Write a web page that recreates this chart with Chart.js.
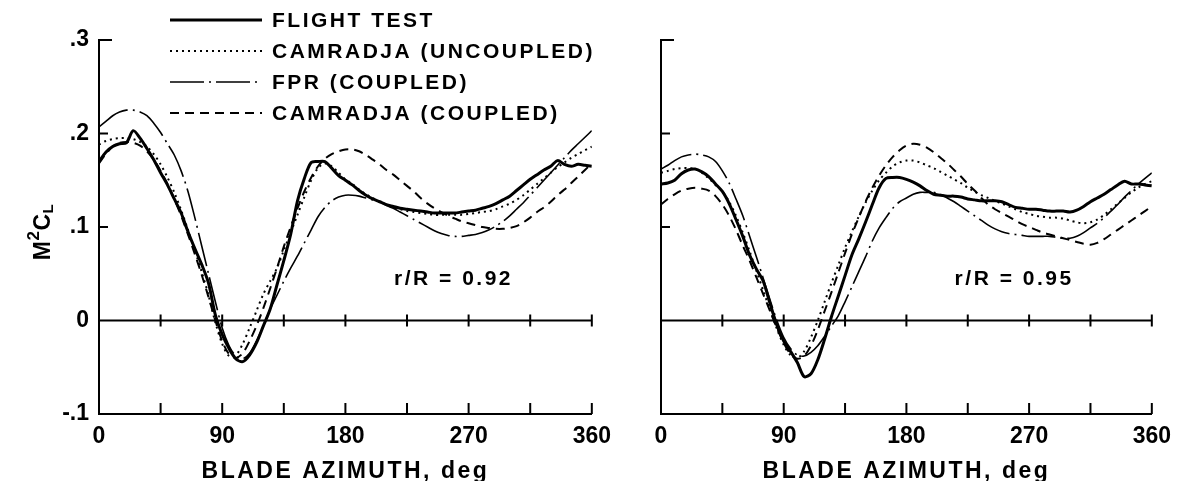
<!DOCTYPE html>
<html><head><meta charset="utf-8">
<script src="https://cdn.jsdelivr.net/npm/chart.js@4.4.0/dist/chart.umd.min.js"></script>
<style>
html,body{margin:0;padding:0;background:#fff;overflow:hidden;width:1180px;height:481px;}
#wrap{position:relative;width:1180px;height:481px;overflow:hidden;background:#fff}
canvas{position:absolute;top:0}
#c1{left:0px}
#c2{left:600px}
</style></head><body>
<div id="wrap">
<canvas id="c1" width="620" height="500"></canvas>
<canvas id="c2" width="580" height="500"></canvas>
</div>
<script>
// ---------------- data ----------------
const azimuth = [0,5,10,15,20,25,30,35,40,45,50,55,60,65,70,75,80,85,90,95,100,105,110,115,120,125,130,135,140,145,150,155,160,165,170,175,180,185,190,195,200,205,210,215,220,225,230,235,240,245,250,255,260,265,270,275,280,285,290,295,300,305,310,315,320,325,330,335,340,345,350,355,360];
const xTickLabels = ['0','90','180','270','360'];
const yTickLabels = ['-.1','0','.1','.2','.3'];
const seriesNames = ['FLIGHT TEST','CAMRADJA (UNCOUPLED)','FPR (COUPLED)','CAMRADJA (COUPLED)'];
const panelNotes = ['r/R = 0.92','r/R = 0.95'];
const xAxisTitle = 'BLADE AZIMUTH, deg';

// r/R = 0.92
const flightTest092 = [.170,.180,.186,.189,.190,.203,.195,.184,.172,.158, .145,.130,.115,.095,.077,.060,.040,.006,-.015,-.030, -.041,-.044,-.037,-.024,-.006,.012,.038,.064,.092,.128, .152,.169,.170,.170,.163,.155,.150,.145,.139,.134, .130,.127,.124,.122,.120,.119,.118,.117,.116,.115, .115,.115,.115,.116,.117,.118,.120,.122,.125,.129, .133,.139,.145,.151,.156,.161,.165,.171,.167,.165, .167,.166,.165];
const camradjaUncoupled092 = [.188,.192,.194,.195,.195,.194,.191,.186,.178,.167, .153,.137,.118,.097,.075,.052,.027,-.002,-.025,-.038, -.037,-.025,-.008,.010,.028,.042,.056,.075,.094,.113, .132,.150,.163,.168,.165,.158,.151,.146,.140,.135, .131,.127,.124,.121,.119,.117,.116,.115,.114,.113, .113,.113,.113,.113,.114,.115,.116,.117,.119,.122, .125,.129,.134,.140,.146,.152,.158,.164,.169,.174, .178,.182,.186];
const fprCoupled092 = [.207,.213,.219,.223,.225,.225,.223,.219,.211,.201, .189,.177,.160,.138,.110,.080,.050,.020,-.008,-.027, -.038,-.041,-.035,-.022,-.006,.012,.027,.042,.056,.069, .083,.097,.111,.121,.128,.132,.134,.134,.133,.131, .129,.127,.123,.120,.116,.112,.108,.104,.100,.096, .093,.091,.090,.090,.091,.092,.094,.097,.101,.106, .112,.119,.126,.134,.142,.150,.158,.166,.174,.182, .189,.196,.203];
const camradjaCoupled092 = [.168,.178,.186,.190,.191,.190,.187,.181,.172,.160, .146,.130,.112,.092,.071,.049,.025,.000,-.022,-.036, -.040,-.035,-.022,-.006,.013,.034,.056,.079,.100,.120, .138,.153,.165,.173,.178,.181,.183,.183,.181,.177, .172,.167,.161,.156,.150,.144,.138,.131,.125,.120, .116,.112,.109,.106,.104,.102,.100,.099,.098,.098, .099,.101,.105,.110,.116,.121,.127,.134,.140,.147, .154,.161,.168];

// r/R = 0.95
const flightTest095 = [.146,.147,.150,.157,.161,.162,.159,.154,.146,.138, .125,.108,.090,.070,.055,.042,.018,-.005,-.022,-.033, -.045,-.060,-.057,-.042,-.020,.004,.026,.048,.070,.087, .105,.124,.142,.152,.153,.153,.151,.148,.144,.139, .135,.134,.133,.133,.132,.130,.129,.128,.128,.128, .127,.124,.121,.120,.119,.119,.118,.117,.117,.117, .116,.118,.122,.127,.131,.135,.140,.145,.149,.146, .146,.145,.144];
const camradjaUncoupled095 = [.158,.160,.162,.163,.163,.162,.158,.152,.145,.138, .127,.112,.094,.074,.053,.032,.011,-.009,-.026,-.037, -.040,-.033,-.018,.000,.020,.040,.059,.078,.095,.111, .126,.139,.150,.158,.165,.169,.171,.171,.169,.166, .163,.159,.155,.151,.147,.142,.138,.134,.131,.128, .125,.122,.119,.116,.114,.112,.111,.110,.110,.109, .107,.105,.104,.105,.108,.113,.119,.125,.131,.137, .142,.146,.149];
const fprCoupled095 = [.162,.166,.171,.175,.177,.178,.177,.175,.170,.160, .147,.130,.112,.090,.068,.045,.022,.000,-.018,-.030, -.037,-.038,-.034,-.027,-.017,-.006,.005,.020,.036,.052, .068,.085,.099,.110,.120,.127,.131,.135,.137,.137, .137,.135,.131,.127,.122,.117,.112,.107,.102,.098, .095,.093,.092,.091,.090,.090,.090,.090,.089,.088, .088,.090,.094,.099,.104,.110,.117,.124,.132,.139, .146,.152,.158];
const camradjaCoupled095 = [.124,.130,.135,.139,.141,.142,.141,.139,.133,.124, .112,.097,.080,.064,.046,.028,.010,-.008,-.024,-.036, -.041,-.038,-.027,-.010,.010,.030,.051,.072,.092,.110, .127,.142,.155,.166,.175,.182,.187,.189,.188,.185, .180,.174,.168,.161,.154,.146,.139,.131,.124,.119, .115,.111,.107,.103,.100,.097,.094,.092,.090,.088, .086,.084,.082,.081,.083,.087,.092,.097,.102,.107, .112,.117,.122];

// ---------------- styles ----------------
const FONT = '"Liberation Sans", Arial, Helvetica, sans-serif';
Chart.defaults.font.family = FONT;
Chart.defaults.color = '#000';
const lineStyles = [
  {borderWidth: 3, borderDash: []},
  {borderWidth: 2, borderDash: [2, 4]},
  {borderWidth: 1.6, borderDash: [34, 5, 2, 5]},
  {borderWidth: 2, borderDash: [9, 6]}
];

function makeDatasets(series) {
  return series.map((vals, i) => ({
    label: seriesNames[i],
    data: azimuth.map((a, j) => ({x: a, y: vals[j]})),
    borderColor: '#000',
    backgroundColor: '#000',
    borderWidth: lineStyles[i].borderWidth,
    borderDash: lineStyles[i].borderDash,
    pointRadius: 0,
    tension: 0.3,
    fill: false
  }));
}

const spacing = {
  id: 'spacing',
  beforeDraw(c) { c.ctx.letterSpacing = '2.5px'; },
  beforeDatasetsDraw(c) { c.ctx.letterSpacing = '0px'; }
};

const decor = {
  id: 'decor',
  afterDraw(chart, args, opts) {
    const {ctx} = chart;
    const x = chart.scales.x, y = chart.scales.y;
    ctx.save();
    ctx.letterSpacing = '0px';
    ctx.strokeStyle = '#000';
    ctx.fillStyle = '#000';
    ctx.lineWidth = 2;
    ctx.setLineDash([]);
    const y0 = y.getPixelForValue(0);
    const yb = y.getPixelForValue(-0.1);
    const xl = x.getPixelForValue(0);
    ctx.beginPath();
    ctx.moveTo(xl, y0); ctx.lineTo(x.getPixelForValue(360), y0);
    for (const t of x.ticks) {
      if (t.value === 0) continue;
      const px = x.getPixelForValue(t.value);
      ctx.moveTo(px, y0 - 6); ctx.lineTo(px, y0 + 6);
      ctx.moveTo(px, yb); ctx.lineTo(px, yb - 11);
    }
    for (const t of y.ticks) {
      if (t.value <= 0.001) continue;
      const py = y.getPixelForValue(t.value);
      const len = t.value > 0.25 ? 13 : 9;
      ctx.moveTo(xl, py); ctx.lineTo(xl + len, py);
    }
    ctx.stroke();

    // panel note
    ctx.letterSpacing = '2.5px';
    ctx.font = 'bold 21px ' + FONT;
    ctx.textAlign = 'center';
    ctx.textBaseline = 'middle';
    ctx.fillText(opts.note, x.getPixelForValue(259), y.getPixelForValue(0.044));

    if (opts.legend) {
      const rows = [20, 51, 82, 113];
      chart.data.datasets.forEach((ds, i) => {
        ctx.lineWidth = ds.borderWidth;
        ctx.setLineDash(ds.borderDash);
        ctx.beginPath();
        ctx.moveTo(170, rows[i]); ctx.lineTo(262, rows[i]);
        ctx.stroke();
        ctx.setLineDash([]);
        ctx.textAlign = 'left';
        ctx.fillText(ds.label, 272, rows[i] + 1);
      });
    }

    if (opts.yTitle) {
      ctx.save();
      ctx.translate(50, 232);
      ctx.rotate(-Math.PI / 2);
      ctx.letterSpacing = '0.5px';
      ctx.textAlign = 'left';
      ctx.textBaseline = 'alphabetic';
      const parts = [{t: 'M', s: 23, dy: 0}, {t: '2', s: 17, dy: -11}, {t: 'C', s: 23, dy: 0}, {t: 'L', s: 15, dy: 3}];
      let total = 0;
      parts.forEach(p => { ctx.font = 'bold ' + p.s + 'px ' + FONT; p.w = ctx.measureText(p.t).width; total += p.w; });
      let cx = -total / 2;
      parts.forEach(p => { ctx.font = 'bold ' + p.s + 'px ' + FONT; ctx.fillText(p.t, cx, p.dy); cx += p.w; });
      ctx.restore();
    }
    ctx.restore();
  }
};

function makeChart(canvasId, series, yWidth, padRight, showYLabels, pluginOpts) {
  return new Chart(document.getElementById(canvasId), {
    type: 'line',
    data: {datasets: makeDatasets(series)},
    options: {
      responsive: false,
      animation: false,
      events: [],
      layout: {padding: {left: 0, top: 40, right: padRight, bottom: 0}},
      plugins: {legend: {display: false}, tooltip: {enabled: false}, decor: pluginOpts},
      scales: {
        x: {
          type: 'linear', min: 0, max: 360,
          afterFit: s => { s.height = 86; },
          grid: {display: false, drawTicks: false},
          border: {display: true, color: '#000', width: 2},
          ticks: {
            stepSize: 45, autoSkip: false, maxRotation: 0, padding: 9, z: 1,
            font: {size: 23, weight: 'bold'}, color: '#000',
            callback: v => (v % 90 === 0 ? xTickLabels[v / 90] : '')
          },
          title: {display: true, text: xAxisTitle, color: '#000', font: {size: 23, weight: 'bold'}, padding: {top: 0, bottom: 15}}
        },
        y: {
          min: -0.1, max: 0.3,
          afterFit: s => { s.width = yWidth; },
          grid: {display: false, drawTicks: false},
          border: {display: true, color: '#000', width: 2},
          ticks: {
            display: showYLabels, stepSize: 0.1, padding: 10, z: 1,
            font: {size: 23, weight: 'bold'}, color: '#000',
            callback: v => yTickLabels[Math.round((v + 0.1) / 0.1)]
          }
        }
      }
    },
    plugins: [spacing, decor]
  });
}

makeChart('c1', [flightTest092, camradjaUncoupled092, fprCoupled092, camradjaCoupled092], 99, 23, true,
  {note: panelNotes[0], legend: true, yTitle: true});
makeChart('c2', [flightTest095, camradjaUncoupled095, fprCoupled095, camradjaCoupled095], 61, 23, false,
  {note: panelNotes[1], legend: false, yTitle: false});
</script>
</body></html>
